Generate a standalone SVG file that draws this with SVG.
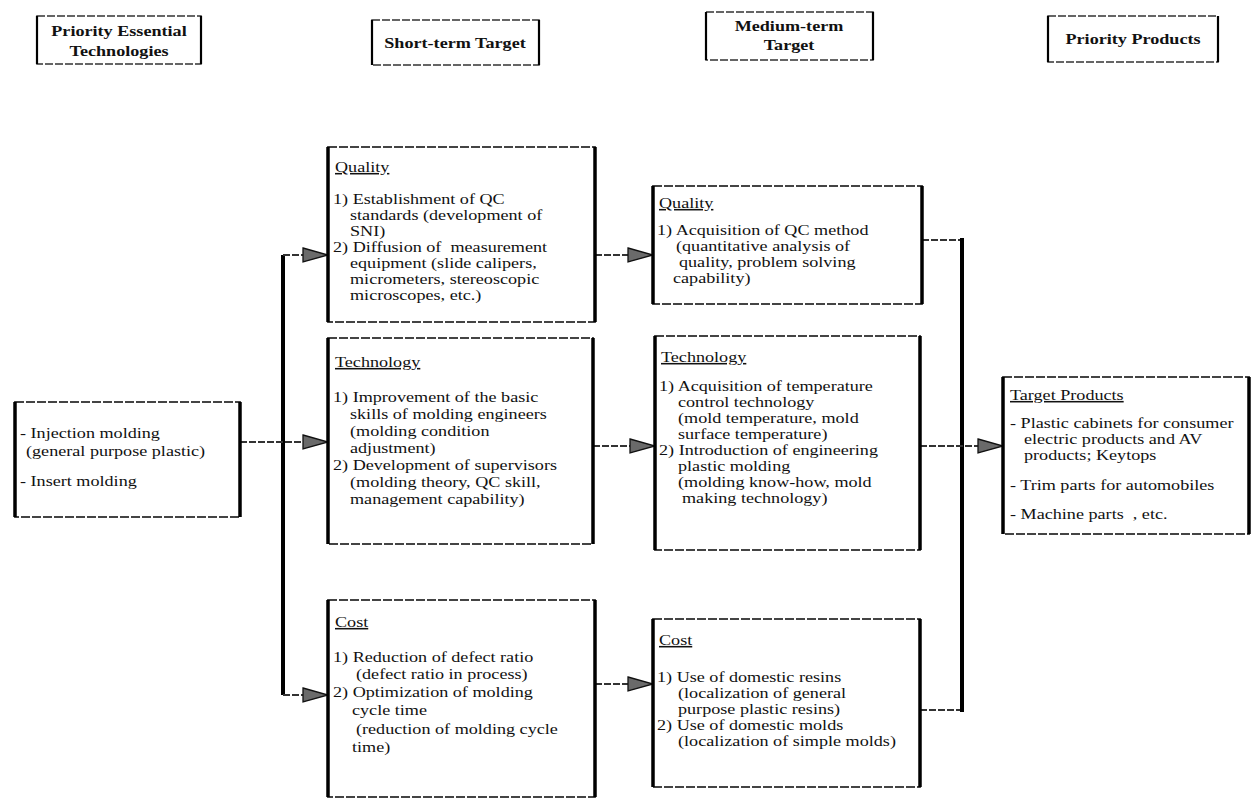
<svg xmlns="http://www.w3.org/2000/svg" width="1252" height="800" viewBox="0 0 1252 800">
<defs>
<marker id="arr" markerUnits="userSpaceOnUse" markerWidth="30" markerHeight="18" refX="27" refY="9" orient="auto">
<path d="M2,2 L27,9 L2,16 z" fill="#6a6a6a" stroke="#111" stroke-width="1.3"/>
</marker>
<style>
.box{fill:#fff;stroke:#444;stroke-width:1.8;stroke-dasharray:9 2}
.side{stroke:#000;stroke-width:3.5}
.hdr{fill:#fff;stroke:#333;stroke-width:1.5;stroke-dasharray:8 2}
.hs{stroke:#000;stroke-width:2.2}
.t{font-family:"Liberation Serif","Times New Roman",serif;font-size:15.5px;fill:#111}
.h{font-family:"Liberation Serif","Times New Roman",serif;font-size:15.5px;font-weight:bold;fill:#111;text-anchor:middle}
.u{text-decoration:underline}
.ln{stroke:#333;stroke-width:2;fill:none;stroke-dasharray:7 2}
.vl{stroke:#000;stroke-width:4;fill:none}
</style>
</defs>

<g id="hdr-essential">
<rect class="hdr" x="37" y="16" width="164" height="48"/>
<line class="hs" x1="37" y1="16" x2="37" y2="64"/><line class="hs" x1="201" y1="16" x2="201" y2="64"/>
<text class="h" transform="translate(119 36) scale(1.17 1)">Priority Essential</text>
<text class="h" transform="translate(119 56) scale(1.17 1)">Technologies</text>
</g>
<g id="hdr-short">
<rect class="hdr" x="372" y="20" width="167" height="45"/>
<line class="hs" x1="372" y1="20" x2="372" y2="65"/><line class="hs" x1="539" y1="20" x2="539" y2="65"/>
<text class="h" transform="translate(455 48) scale(1.17 1)">Short-term Target</text>
</g>
<g id="hdr-medium">
<rect class="hdr" x="706" y="12" width="167" height="48"/>
<line class="hs" x1="706" y1="12" x2="706" y2="60"/><line class="hs" x1="873" y1="12" x2="873" y2="60"/>
<text class="h" transform="translate(789 31) scale(1.17 1)">Medium-term</text>
<text class="h" transform="translate(789 50) scale(1.17 1)">Target</text>
</g>
<g id="hdr-products">
<rect class="hdr" x="1048" y="16" width="170" height="46"/>
<line class="hs" x1="1048" y1="16" x2="1048" y2="62"/><line class="hs" x1="1218" y1="16" x2="1218" y2="62"/>
<text class="h" transform="translate(1133 44) scale(1.17 1)">Priority Products</text>
</g>

<g id="connectors">
<line class="vl" x1="283" y1="255" x2="283" y2="695"/>
<line class="ln" x1="283" y1="255" x2="328" y2="255" marker-end="url(#arr)"/>
<line class="ln" x1="240" y1="442" x2="328" y2="442" marker-end="url(#arr)"/>
<line class="ln" x1="283" y1="695" x2="328" y2="695" marker-end="url(#arr)"/>
<line class="ln" x1="595" y1="255" x2="653" y2="255" marker-end="url(#arr)"/>
<line class="ln" x1="593" y1="446" x2="655" y2="446" marker-end="url(#arr)"/>
<line class="ln" x1="595" y1="684" x2="653" y2="684" marker-end="url(#arr)"/>
<line class="ln" x1="922" y1="240" x2="962" y2="240"/>
<line class="ln" x1="920" y1="710" x2="962" y2="710"/>
<line class="vl" x1="962" y1="238" x2="962" y2="712"/>
<line class="ln" x1="920" y1="446" x2="1003" y2="446" marker-end="url(#arr)"/>
</g>

<g id="essential">
<rect class="box" x="15" y="402" width="225" height="115"/>
<line class="side" x1="15" y1="402" x2="15" y2="517"/><line class="side" x1="240" y1="402" x2="240" y2="517"/>
<text class="t" transform="translate(20 438) scale(1.17 1)">- Injection molding</text>
<text class="t" transform="translate(26 456) scale(1.17 1)">(general purpose plastic)</text>
<text class="t" transform="translate(20 486) scale(1.17 1)">- Insert molding</text>
</g>

<g id="short-quality">
<rect class="box" x="328" y="147" width="267" height="175"/>
<line class="side" x1="328" y1="147" x2="328" y2="322"/><line class="side" x1="595" y1="147" x2="595" y2="322"/>
<text class="t u" transform="translate(335 172) scale(1.17 1)">Quality</text>
<text class="t" transform="translate(333 204) scale(1.17 1)">1) Establishment of QC</text>
<text class="t" transform="translate(350 220) scale(1.17 1)">standards (development of</text>
<text class="t" transform="translate(350 236) scale(1.17 1)">SNI)</text>
<text class="t" transform="translate(333 252) scale(1.17 1)" xml:space="preserve">2) Diffusion of  measurement</text>
<text class="t" transform="translate(350 268) scale(1.17 1)">equipment (slide calipers,</text>
<text class="t" transform="translate(350 284) scale(1.17 1)">micrometers, stereoscopic</text>
<text class="t" transform="translate(350 300) scale(1.17 1)">microscopes, etc.)</text>
</g>

<g id="short-technology">
<rect class="box" x="328" y="338" width="265" height="206"/>
<line class="side" x1="328" y1="338" x2="328" y2="544"/><line class="side" x1="593" y1="338" x2="593" y2="544"/>
<text class="t u" transform="translate(335 367) scale(1.17 1)">Technology</text>
<text class="t" transform="translate(333 402) scale(1.17 1)">1) Improvement of the basic</text>
<text class="t" transform="translate(350 419) scale(1.17 1)">skills of molding engineers</text>
<text class="t" transform="translate(350 436) scale(1.17 1)">(molding condition</text>
<text class="t" transform="translate(350 453) scale(1.17 1)">adjustment)</text>
<text class="t" transform="translate(333 470) scale(1.17 1)">2) Development of supervisors</text>
<text class="t" transform="translate(350 487) scale(1.17 1)">(molding theory, QC skill,</text>
<text class="t" transform="translate(350 504) scale(1.17 1)">management capability)</text>
</g>

<g id="short-cost">
<rect class="box" x="328" y="600" width="267" height="197"/>
<line class="side" x1="328" y1="600" x2="328" y2="797"/><line class="side" x1="595" y1="600" x2="595" y2="797"/>
<text class="t u" transform="translate(335 627) scale(1.17 1)">Cost</text>
<text class="t" transform="translate(333 662) scale(1.17 1)">1) Reduction of defect ratio</text>
<text class="t" transform="translate(356 679) scale(1.17 1)">(defect ratio in process)</text>
<text class="t" transform="translate(333 697) scale(1.17 1)">2) Optimization of molding</text>
<text class="t" transform="translate(352 715) scale(1.17 1)">cycle time</text>
<text class="t" transform="translate(356 734) scale(1.17 1)">(reduction of molding cycle</text>
<text class="t" transform="translate(352 752) scale(1.17 1)">time)</text>
</g>

<g id="medium-quality">
<rect class="box" x="653" y="186" width="269" height="118"/>
<line class="side" x1="653" y1="186" x2="653" y2="304"/><line class="side" x1="922" y1="186" x2="922" y2="304"/>
<text class="t u" transform="translate(659 208) scale(1.17 1)">Quality</text>
<text class="t" transform="translate(657 235) scale(1.17 1)">1) Acquisition of QC method</text>
<text class="t" transform="translate(676 251) scale(1.17 1)">(quantitative analysis of</text>
<text class="t" transform="translate(679 267) scale(1.17 1)">quality, problem solving</text>
<text class="t" transform="translate(673 283) scale(1.17 1)">capability)</text>
</g>

<g id="medium-technology">
<rect class="box" x="655" y="336" width="265" height="214"/>
<line class="side" x1="655" y1="336" x2="655" y2="550"/><line class="side" x1="920" y1="336" x2="920" y2="550"/>
<text class="t u" transform="translate(661 362) scale(1.17 1)">Technology</text>
<text class="t" transform="translate(659 391) scale(1.17 1)">1) Acquisition of temperature</text>
<text class="t" transform="translate(678 407) scale(1.17 1)">control technology</text>
<text class="t" transform="translate(678 423) scale(1.17 1)">(mold temperature, mold</text>
<text class="t" transform="translate(678 439) scale(1.17 1)">surface temperature)</text>
<text class="t" transform="translate(659 455) scale(1.17 1)">2) Introduction of engineering</text>
<text class="t" transform="translate(678 471) scale(1.17 1)">plastic molding</text>
<text class="t" transform="translate(678 487) scale(1.17 1)">(molding know-how, mold</text>
<text class="t" transform="translate(682 503) scale(1.17 1)">making technology)</text>
</g>

<g id="medium-cost">
<rect class="box" x="653" y="619" width="267" height="168"/>
<line class="side" x1="653" y1="619" x2="653" y2="787"/><line class="side" x1="920" y1="619" x2="920" y2="787"/>
<text class="t u" transform="translate(659 645) scale(1.17 1)">Cost</text>
<text class="t" transform="translate(657 682) scale(1.17 1)">1) Use of domestic resins</text>
<text class="t" transform="translate(678 698) scale(1.17 1)">(localization of general</text>
<text class="t" transform="translate(678 714) scale(1.17 1)">purpose plastic resins)</text>
<text class="t" transform="translate(657 730) scale(1.17 1)">2) Use of domestic molds</text>
<text class="t" transform="translate(678 746) scale(1.17 1)">(localization of simple molds)</text>
</g>

<g id="target-products">
<rect class="box" x="1003" y="377" width="246" height="157"/>
<line class="side" x1="1003" y1="377" x2="1003" y2="534"/><line class="side" x1="1249" y1="377" x2="1249" y2="534"/>
<text class="t u" transform="translate(1010 400) scale(1.17 1)">Target Products</text>
<text class="t" transform="translate(1010 428) scale(1.17 1)">- Plastic cabinets for consumer</text>
<text class="t" transform="translate(1024 444) scale(1.17 1)">electric products and AV</text>
<text class="t" transform="translate(1024 460) scale(1.17 1)">products; Keytops</text>
<text class="t" transform="translate(1010 490) scale(1.17 1)">- Trim parts for automobiles</text>
<text class="t" transform="translate(1010 519) scale(1.17 1)" xml:space="preserve">- Machine parts  , etc.</text>
</g>
</svg>
